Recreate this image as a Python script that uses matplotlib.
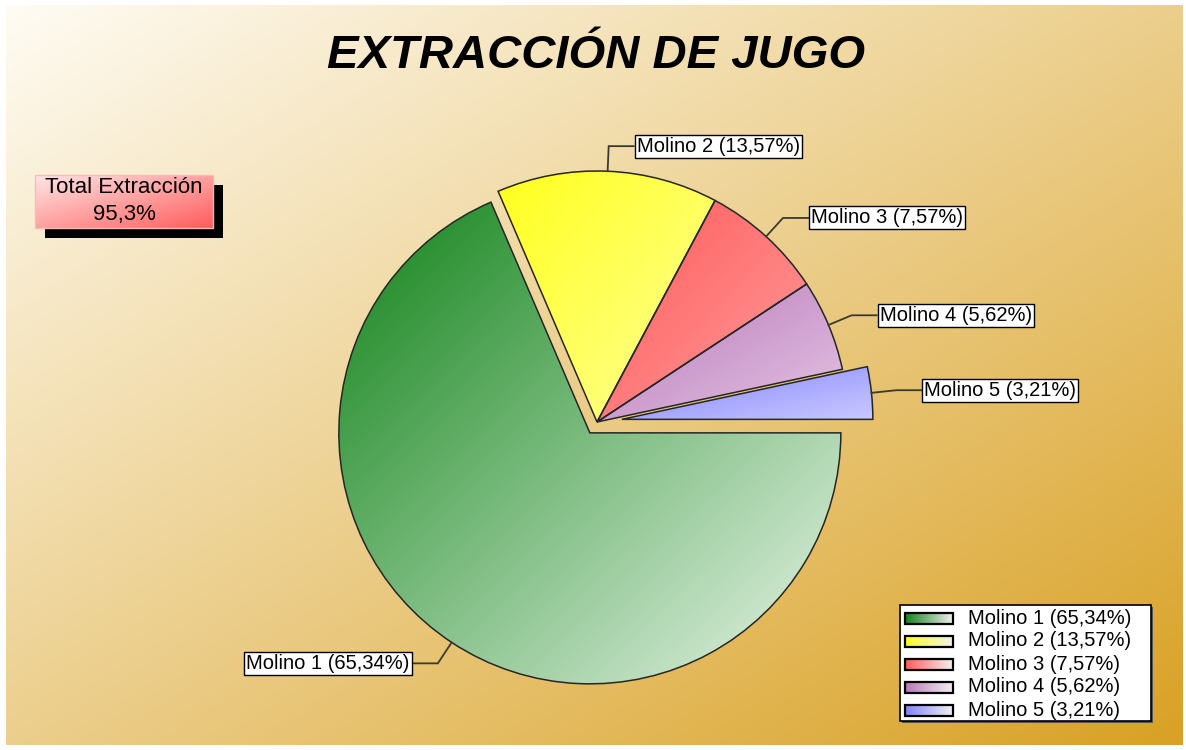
import numpy as np
import matplotlib
matplotlib.use('Agg')
import matplotlib.pyplot as plt
from matplotlib.colors import to_rgb
from matplotlib.patches import Rectangle

# Chart data
names = ['Molino 1', 'Molino 2', 'Molino 3', 'Molino 4', 'Molino 5']
values = [65.34, 13.57, 7.57, 5.62, 3.21]
title = 'EXTRACCIÓN DE JUGO'
total_label = 'Total Extracción'

# gradient colours per slice (top-left -> bottom-right)
dark = ['#12841a', '#ffff1e', '#ff5a5a', '#b878b8', '#8282ff']
light = ['#e8f5e8', '#ffff99', '#ff9c9c', '#e4c4e4', '#c8c8ff']
explode = [13, 0, 0, 0, 25]  # offsets in pixels

W, H = 1186, 750
FONT = 'Liberation Sans'


def py(y):
    # pixel row (from top) -> data y
    return H - y


def gradient(c1, c2, n=200, diag=True):
    c1, c2 = np.array(to_rgb(c1)), np.array(to_rgb(c2))
    X, Y = np.meshgrid(np.linspace(0, 1, n), np.linspace(0, 1, n))
    t = (X + Y) / 2 if diag else X
    return c1 + (c2 - c1) * t[..., None]


fig = plt.figure(figsize=(W / 100, H / 100), dpi=100, facecolor='white')
ax = fig.add_axes([0, 0, 1, 1])

# background
ax.imshow(gradient('#fffcf4', '#d9a124', 400), extent=(6, 1183, py(745), py(5)),
          origin='upper', zorder=-10, interpolation='bilinear')

# pie
cx, cy, r = 597, py(422), 251
wedges, _ = ax.pie(values, colors=dark, startangle=0, counterclock=False,
                   explode=explode, radius=r, center=(cx, cy),
                   wedgeprops=dict(ec='#262626', lw=1.1))

for w, c1, c2, name, v in zip(wedges, dark, light, names, values):
    w.set_facecolor('none')
    w.set_zorder(3)
    ext = w.get_path().get_extents()
    im = ax.imshow(gradient(c1, c2), extent=(ext.x0, ext.x1, ext.y0, ext.y1),
                   origin='upper', zorder=2, interpolation='bilinear')
    im.set_clip_path(w)

    # leader line + label box
    th = np.deg2rad((w.theta1 + w.theta2) / 2)
    ox, oy = w.center
    p0 = (ox + r * np.cos(th), oy + r * np.sin(th))
    p1 = (ox + 1.1 * r * np.cos(th), oy + 1.1 * r * np.sin(th))
    side = 1 if np.cos(th) > 0 else -1
    p2 = (p1[0] + side * 25, p1[1])
    ax.plot([p0[0], p1[0], p2[0]], [p0[1], p1[1], p2[1]], color='#3a3a30',
            lw=1.3, zorder=4, solid_joinstyle='miter')
    txt = f"{name} ({v:.2f}%)".replace('.', ',')
    ax.text(p2[0] + side * 3, p2[1], txt, ha='left' if side > 0 else 'right',
            va='center', fontsize=14.5, family=FONT, color='black', zorder=5,
            bbox=dict(boxstyle='square,pad=0.1', fc='white', ec='black', lw=1))

# title
fig.text(596 / W, 1 - 68 / H, title, ha='center', va='baseline', fontsize=34,
         fontweight='bold', style='italic', family=FONT, color='black')

# total box with shadow
total = sum(values)
ax.add_patch(Rectangle((45, py(238)), 178, 53, fc='black', ec='none', zorder=5))
ax.imshow(gradient('#ffe6e6', '#ff5c5c'), extent=(35, 213, py(228), py(175)),
          origin='upper', zorder=6, interpolation='bilinear')
ax.add_patch(Rectangle((35, py(228)), 178, 53, fc='none', ec='#ffb8b8', lw=1, zorder=7))
ax.text(124, py(193), total_label, ha='center', va='baseline', fontsize=16,
        family=FONT, zorder=8)
ax.text(124, py(220), f"{total:.1f}%".replace('.', ','), ha='center', va='baseline',
        fontsize=16, family=FONT, zorder=8)

# legend
ax.add_patch(Rectangle((902, py(723)), 251, 116, fc='#555555', ec='none', zorder=5))
ax.add_patch(Rectangle((900, py(721)), 251, 116, fc='white', ec='black', lw=1.2, zorder=6))
for i, (name, v, c1) in enumerate(zip(names, values, dark)):
    yc = 618 + i * 23
    ax.imshow(gradient(c1, '#f0f0f0', diag=False), extent=(905, 953, py(yc + 5.5), py(yc - 5.5)),
              origin='upper', zorder=7, interpolation='bilinear')
    ax.add_patch(Rectangle((905, py(yc + 5.5)), 48, 11, fc='none', ec='black', lw=1.6, zorder=8))
    ax.text(968, py(yc), f"{name} ({v:.2f}%)".replace('.', ','), ha='left', va='center',
            fontsize=14.5, family=FONT, zorder=8)

ax.set_aspect('auto')
ax.set_xlim(0, W)
ax.set_ylim(0, H)
ax.axis('off')

fig.savefig('out.png', dpi=100, facecolor='white')
